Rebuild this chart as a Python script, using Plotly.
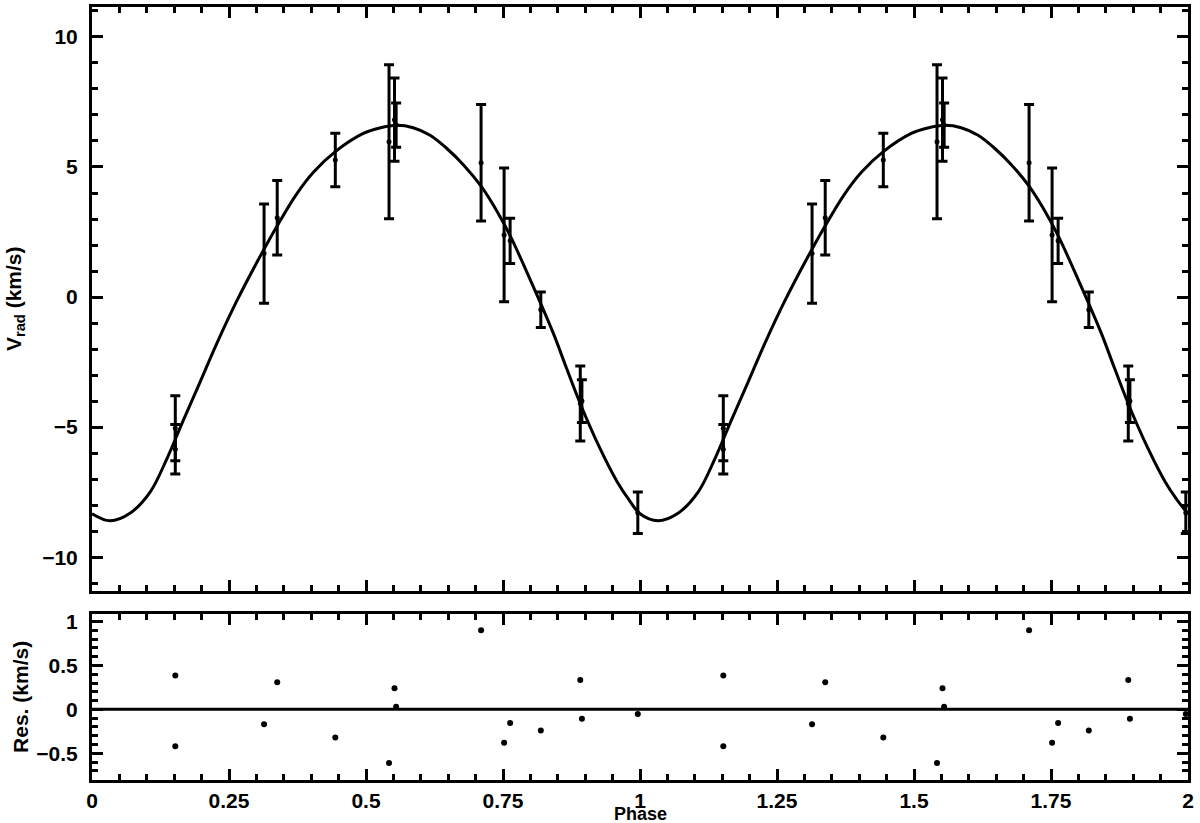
"""
Radial velocity curve with fitted model and residuals
"""
import plotly.graph_objects as go
from plotly.subplots import make_subplots

# measured radial velocities (phase folded, one cycle)
phase = [0.152, 0.152, 0.314, 0.338, 0.444, 0.542, 0.552, 0.555,
         0.710, 0.752, 0.763, 0.819, 0.891, 0.894, 0.996]
vrad = [-5.04, -5.85, 1.67, 3.05, 5.27, 5.97, 6.82, 6.61,
        5.16, 2.39, 2.16, -0.49, -4.09, -4.00, -8.29]
vrad_err = [1.25, 0.95, 1.91, 1.43, 1.03, 2.96, 1.60, 0.85,
            2.24, 2.57, 0.87, 0.68, 1.44, 0.82, 0.80]

# residuals (data - model), same order
resid = [0.386, -0.42, -0.17, 0.31, -0.32, -0.61, 0.24, 0.03,
         0.90, -0.38, -0.155, -0.24, 0.333, -0.106, -0.053]

# fitted orbit, read along the curve over one cycle
model_phase = [0.000, 0.033, 0.070, 0.106, 0.137, 0.166, 0.197, 0.227,
               0.264, 0.300, 0.338, 0.373, 0.404, 0.444, 0.495, 0.525,
               0.556, 0.586, 0.617, 0.647, 0.678, 0.710, 0.739, 0.763,
               0.799, 0.841, 0.866, 0.891, 0.927, 0.958, 0.980]
model_vrad = [-8.33, -8.60, -8.30, -7.50, -6.20, -4.77, -3.28, -1.82,
              -0.16, 1.30, 2.74, 3.95, 4.80, 5.59, 6.29, 6.50,
              6.60, 6.51, 6.22, 5.72, 5.08, 4.26, 3.30, 2.36,
              0.70, -1.35, -2.74, -4.10, -5.82, -7.09, -7.80]

x_ticks = [0, 0.25, 0.5, 0.75, 1, 1.25, 1.5, 1.75, 2]
x_labels = ["0", "0.25", "0.5", "0.75", "1", "1.25", "1.5", "1.75", "2"]

# plotted over two cycles
ph2 = phase + [p + 1 for p in phase]
vr2 = vrad + vrad
er2 = vrad_err + vrad_err
rs2 = resid + resid
mph2 = model_phase + [p + 1 for p in model_phase] + [2.0]
mvr2 = model_vrad + model_vrad + [model_vrad[0]]

FONT = "Liberation Sans, Arial, sans-serif"

fig = make_subplots(rows=2, cols=1, shared_xaxes=True)

fig.add_trace(
    go.Scatter(
        x=mph2, y=mvr2, mode='lines',
        line=dict(color='black', width=3, shape='spline', smoothing=1.0),
        hoverinfo='skip'
    ),
    row=1, col=1
)
fig.add_trace(
    go.Scatter(
        x=ph2, y=vr2, mode='markers',
        marker=dict(color='black', size=5),
        error_y=dict(type='data', array=er2, color='black',
                     thickness=3, width=5)
    ),
    row=1, col=1
)
fig.add_trace(
    go.Scatter(
        x=ph2, y=rs2, mode='markers',
        marker=dict(color='black', size=6)
    ),
    row=2, col=1
)
fig.add_hline(y=0, line_color='black', line_width=3, row=2, col=1)

axis_style = dict(
    showline=True, linewidth=3, linecolor='black', mirror='allticks',
    ticks='inside', ticklen=11, tickwidth=2.5, tickcolor='black',
    showgrid=False, zeroline=False,
    tickfont=dict(family=FONT, size=21, color='black', weight='bold'),
)

fig.update_xaxes(
    **axis_style, range=[0, 2], tickvals=x_ticks, ticktext=x_labels,
    minor=dict(dtick=0.05, tick0=0, ticklen=6, tickwidth=2.5,
               tickcolor='black', ticks='inside')
)
fig.update_xaxes(showticklabels=False, row=1, col=1)

fig.update_yaxes(
    **axis_style, range=[-11.3, 11.15], tickvals=[-10, -5, 0, 5, 10],
    ticklabelstandoff=7,
    minor=dict(dtick=1, tick0=0, ticklen=6, tickwidth=2.5,
               tickcolor='black', ticks='inside'),
    row=1, col=1
)
fig.update_yaxes(
    **axis_style, range=[-0.804, 1.087], tickvals=[-0.5, 0, 0.5, 1],
    ticktext=["\u22120.5", "0", "0.5", "1"], ticklabelstandoff=7,
    minor=dict(dtick=0.1, tick0=0, ticklen=6, tickwidth=2.5,
               tickcolor='black', ticks='inside'),
    row=2, col=1
)

fig.update_layout(
    width=1200, height=823,
    paper_bgcolor='white', plot_bgcolor='white',
    showlegend=False,
    margin=dict(l=92, r=12, t=3, b=43),
    xaxis=dict(domain=[0, 1]),
    xaxis2=dict(domain=[0, 1]),
    yaxis=dict(domain=[0.2445, 1]),
    yaxis2=dict(domain=[0, 0.2149]),
    font=dict(family=FONT, color='black'),
)

title_font = dict(family=FONT, size=21, color='black', weight='bold')
fig.add_annotation(
    text="V<sub>rad</sub> (km/s)", xref='paper', yref='paper',
    x=0, y=0.6222, xshift=-77, textangle=-90, showarrow=False,
    xanchor='center', yanchor='middle', font=title_font
)
fig.add_annotation(
    text="Res. (km/s)", xref='paper', yref='paper',
    x=0, y=0.1075, xshift=-71, textangle=-90, showarrow=False,
    xanchor='center', yanchor='middle', font=title_font
)
fig.add_annotation(
    text="Phase", xref='paper', yref='paper',
    x=0.5, y=0, yshift=-34, showarrow=False,
    xanchor='center', yanchor='middle',
    font=dict(family=FONT, size=18, color='black', weight='bold')
)

fig.write_html("out.html", config={'displayModeBar': False},
               post_script="document.body.style.margin='0';")
